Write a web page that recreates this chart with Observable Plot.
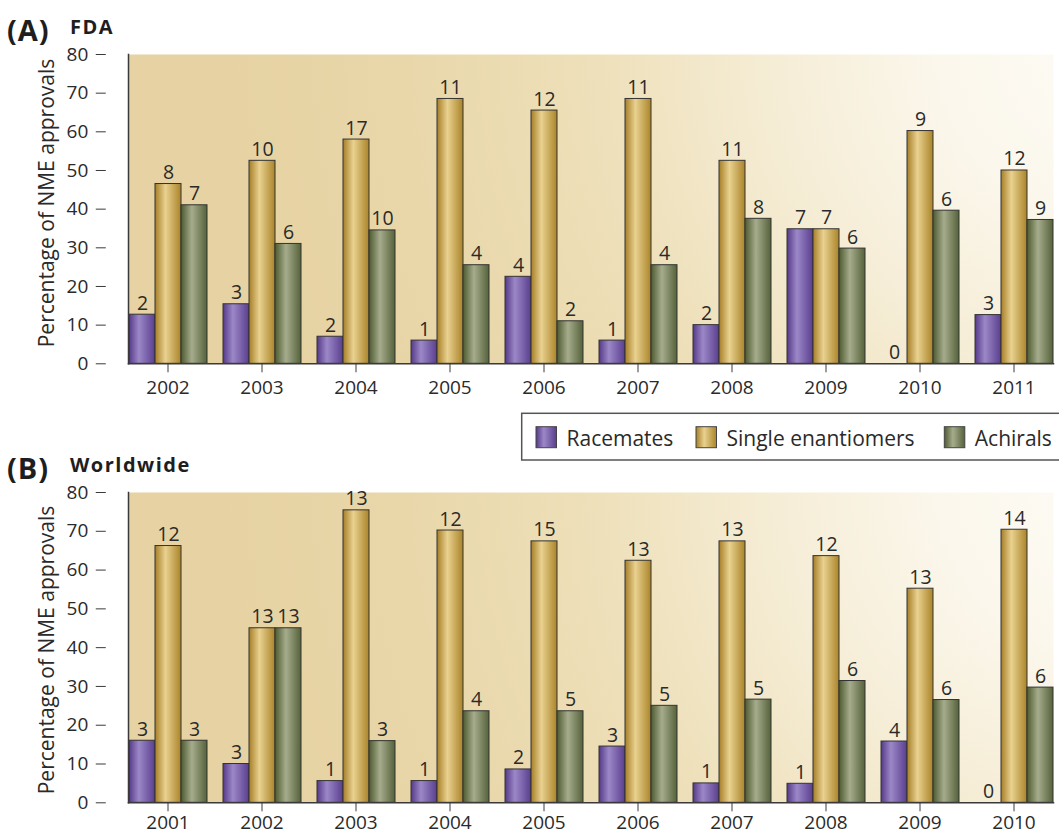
<!DOCTYPE html>
<html>
<head>
<meta charset="utf-8">
<script src="https://cdn.jsdelivr.net/npm/d3@7"></script>
<script src="https://cdn.jsdelivr.net/npm/@observablehq/plot@0.6"></script>
<style>
  html, body { margin: 0; padding: 0; background: #fff; }
  #wrap { position: relative; width: 1059px; height: 834px; overflow: hidden; font-family: "Open Sans", sans-serif; }
  .panel { position: absolute; left: 0; }
  #overlay { position: absolute; left: 0; top: 0; pointer-events: none; }
</style>
</head>
<body>
<div id="wrap">
  <div class="panel" id="panelA" style="top:0px"></div>
  <div class="panel" id="panelB" style="top:438px"></div>
  <svg id="overlay" width="1059" height="834">
    <defs>
      <radialGradient id="plot-bg" gradientUnits="userSpaceOnUse" cx="1120" cy="40" r="900">
        <stop offset="0" stop-color="#fefcf7"/>
        <stop offset="0.2" stop-color="#fbf7ec"/>
        <stop offset="0.4" stop-color="#f5ecd4"/>
        <stop offset="0.58" stop-color="#eee0ba"/>
        <stop offset="0.8" stop-color="#e9d7aa"/>
        <stop offset="1" stop-color="#e6d2a2"/>
      </radialGradient>
      <linearGradient id="bar-0" x1="0" x2="1" y1="0" y2="0">
        <stop offset="0" stop-color="#553a88"/>
        <stop offset="0.38" stop-color="#9c88c8"/>
        <stop offset="1" stop-color="#5a3e8e"/>
      </linearGradient>
      <linearGradient id="bar-1" x1="0" x2="1" y1="0" y2="0">
        <stop offset="0" stop-color="#a67e27"/>
        <stop offset="0.4" stop-color="#e9d190"/>
        <stop offset="1" stop-color="#aa8429"/>
      </linearGradient>
      <linearGradient id="bar-2" x1="0" x2="1" y1="0" y2="0">
        <stop offset="0" stop-color="#4d5a30"/>
        <stop offset="0.42" stop-color="#a6ac8d"/>
        <stop offset="1" stop-color="#55623a"/>
      </linearGradient>
    </defs>
  </svg>
</div>
<script>
// Share of new molecular entity (NME) approvals by chirality class, in percent,
// with the number of approvals printed above each bar.
const groups = ["Racemates", "Single enantiomers", "Achirals"];
const yTicks = [0, 10, 20, 30, 40, 50, 60, 70, 80];

// (A) FDA approvals
const fdaYears = ["2002", "2003", "2004", "2005", "2006", "2007", "2008", "2009", "2010", "2011"];
const fdaRacemates = [12.7, 15.4, 7, 6, 22.5, 6, 10, 34.8, 0, 12.6];
const fdaSingle = [46.5, 52.5, 58, 68.5, 65.5, 68.5, 52.5, 34.8, 60.2, 50];
const fdaAchirals = [41, 31, 34.5, 25.5, 11, 25.5, 37.5, 29.8, 39.6, 37.2];
const fdaRacematesCount = [2, 3, 2, 1, 4, 1, 2, 7, 0, 3];
const fdaSingleCount = [8, 10, 17, 11, 12, 11, 11, 7, 9, 12];
const fdaAchiralsCount = [7, 6, 10, 4, 2, 4, 8, 6, 6, 9];

// (B) Worldwide approvals
const wwYears = ["2001", "2002", "2003", "2004", "2005", "2006", "2007", "2008", "2009", "2010"];
const wwRacemates = [16, 10, 5.6, 5.6, 8.6, 14.5, 5, 4.9, 15.8, 0];
const wwSingle = [66.2, 45, 75.4, 70.2, 67.4, 62.4, 67.4, 63.6, 55.2, 70.4];
const wwAchirals = [16, 45, 15.9, 23.6, 23.6, 25, 26.6, 31.4, 26.5, 29.7];
const wwRacematesCount = [3, 3, 1, 1, 2, 3, 1, 1, 4, 0];
const wwSingleCount = [12, 13, 13, 12, 15, 13, 13, 12, 13, 14];
const wwAchiralsCount = [3, 13, 3, 4, 5, 5, 5, 6, 6, 6];

function toRows(years, series, counts) {
  const rows = [];
  years.forEach((year, i) => {
    groups.forEach((group, g) => {
      rows.push({year, group, value: series[g][i], count: counts[g][i]});
    });
  });
  return rows;
}

const ink = "#2a2a2a";
const W = 1059, ML = 105, MR = -16.8;
const padInner = 0.161, padOuter = 0.236;

function chart(years, rows, height, marginBottom, tickPadding) {
  // the y axis sits on the plot's left edge, ahead of the first year band
  const step = (W - MR - ML) / (years.length - padInner + 2 * padOuter);
  const axisShift = -padOuter * step;
  return Plot.plot({
    width: W,
    height,
    marginTop: 54,
    marginLeft: ML,
    marginRight: MR,
    marginBottom,
    style: {background: "transparent", fontFamily: "'Open Sans', sans-serif", color: ink},
    fx: {domain: years, paddingInner: padInner, paddingOuter: padOuter, label: null},
    x: {domain: groups, padding: 0, axis: null},
    y: {domain: [0, 80], label: null},
    marks: [
      Plot.frame({facet: "super", fill: "url(#plot-bg)", stroke: null}),
      ...groups.map((g, i) => Plot.barY(rows.filter(d => d.group === g), {
        fx: "year", x: "group", y: "value",
        fill: `url(#bar-${i})`, stroke: "#333", strokeWidth: 1
      })),
      Plot.text(rows, {
        fx: "year", x: "group", y: "value", text: d => String(d.count),
        lineAnchor: "bottom", dy: -5, fontSize: 19.5, fill: ink
      }),
      Plot.frame({facet: "super", anchor: "bottom", stroke: "#3a3a3a", strokeWidth: 1.5}),
      Plot.frame({facet: "super", anchor: "left", stroke: "#3a3a3a", strokeWidth: 1.5}),
      Plot.axisY({ticks: yTicks, tickSize: 10, tickPadding: 8, fontSize: 19, label: null, stroke: "#3a3a3a", dx: axisShift}),
      Plot.axisFx({anchor: "bottom", tickSize: 9, tickPadding, fontSize: 19, label: null, stroke: "#3a3a3a"})
    ]
  });
}

const seriesA = [fdaRacemates, fdaSingle, fdaAchirals];
const countsA = [fdaRacematesCount, fdaSingleCount, fdaAchiralsCount];
const seriesB = [wwRacemates, wwSingle, wwAchirals];
const countsB = [wwRacematesCount, wwSingleCount, wwAchiralsCount];

document.getElementById("panelA").append(chart(fdaYears, toRows(fdaYears, seriesA, countsA), 404, 40.7, 8));
document.getElementById("panelB").append(chart(wwYears, toRows(wwYears, seriesB, countsB), 396, 31.7, 3.5));

// Panel titles, y-axis titles and the shared legend
const overlay = d3.select("#overlay");
const titles = [
  {tag: "(A)", name: "FDA", y: 41, nameY: 34},
  {tag: "(B)", name: "Worldwide", y: 479, nameY: 472}
];
titles.forEach(t => {
  overlay.append("text").attr("x", 7).attr("y", t.y)
    .attr("font-family", "'Open Sans', sans-serif").attr("font-weight", 700)
    .attr("font-size", 29).attr("letter-spacing", 1).attr("fill", "#1e1e1e").text(t.tag);
  overlay.append("text").attr("x", 70).attr("y", t.nameY)
    .attr("font-family", "'Open Sans', sans-serif").attr("font-weight", 700)
    .attr("font-size", 20).attr("letter-spacing", 1.5).attr("fill", "#1e1e1e").text(t.name);
});
[203, 650].forEach(cy => {
  overlay.append("text")
    .attr("transform", `translate(46,${cy}) rotate(-90)`)
    .attr("text-anchor", "middle").attr("dominant-baseline", "central")
    .attr("font-family", "'Open Sans', sans-serif").attr("font-size", 21)
    .attr("fill", ink).text("Percentage of NME approvals");
});

const legend = overlay.append("g");
legend.append("rect").attr("x", 521.7).attr("y", 413.3).attr("width", 600).attr("height", 46.7)
  .attr("fill", "#fff").attr("stroke", "#555").attr("stroke-width", 1.5);
const legendX = [536, 696, 944.3];
groups.forEach((g, i) => {
  legend.append("rect").attr("x", legendX[i]).attr("y", 426.7).attr("width", 20.5).attr("height", 21)
    .attr("fill", `url(#bar-${i})`).attr("stroke", "#444").attr("stroke-width", 1);
  legend.append("text").attr("x", legendX[i] + 30.5).attr("y", 445.5)
    .attr("font-family", "'Open Sans', sans-serif").attr("font-size", 21)
    .attr("fill", ink).text(g);
});
</script>
</body>
</html>
